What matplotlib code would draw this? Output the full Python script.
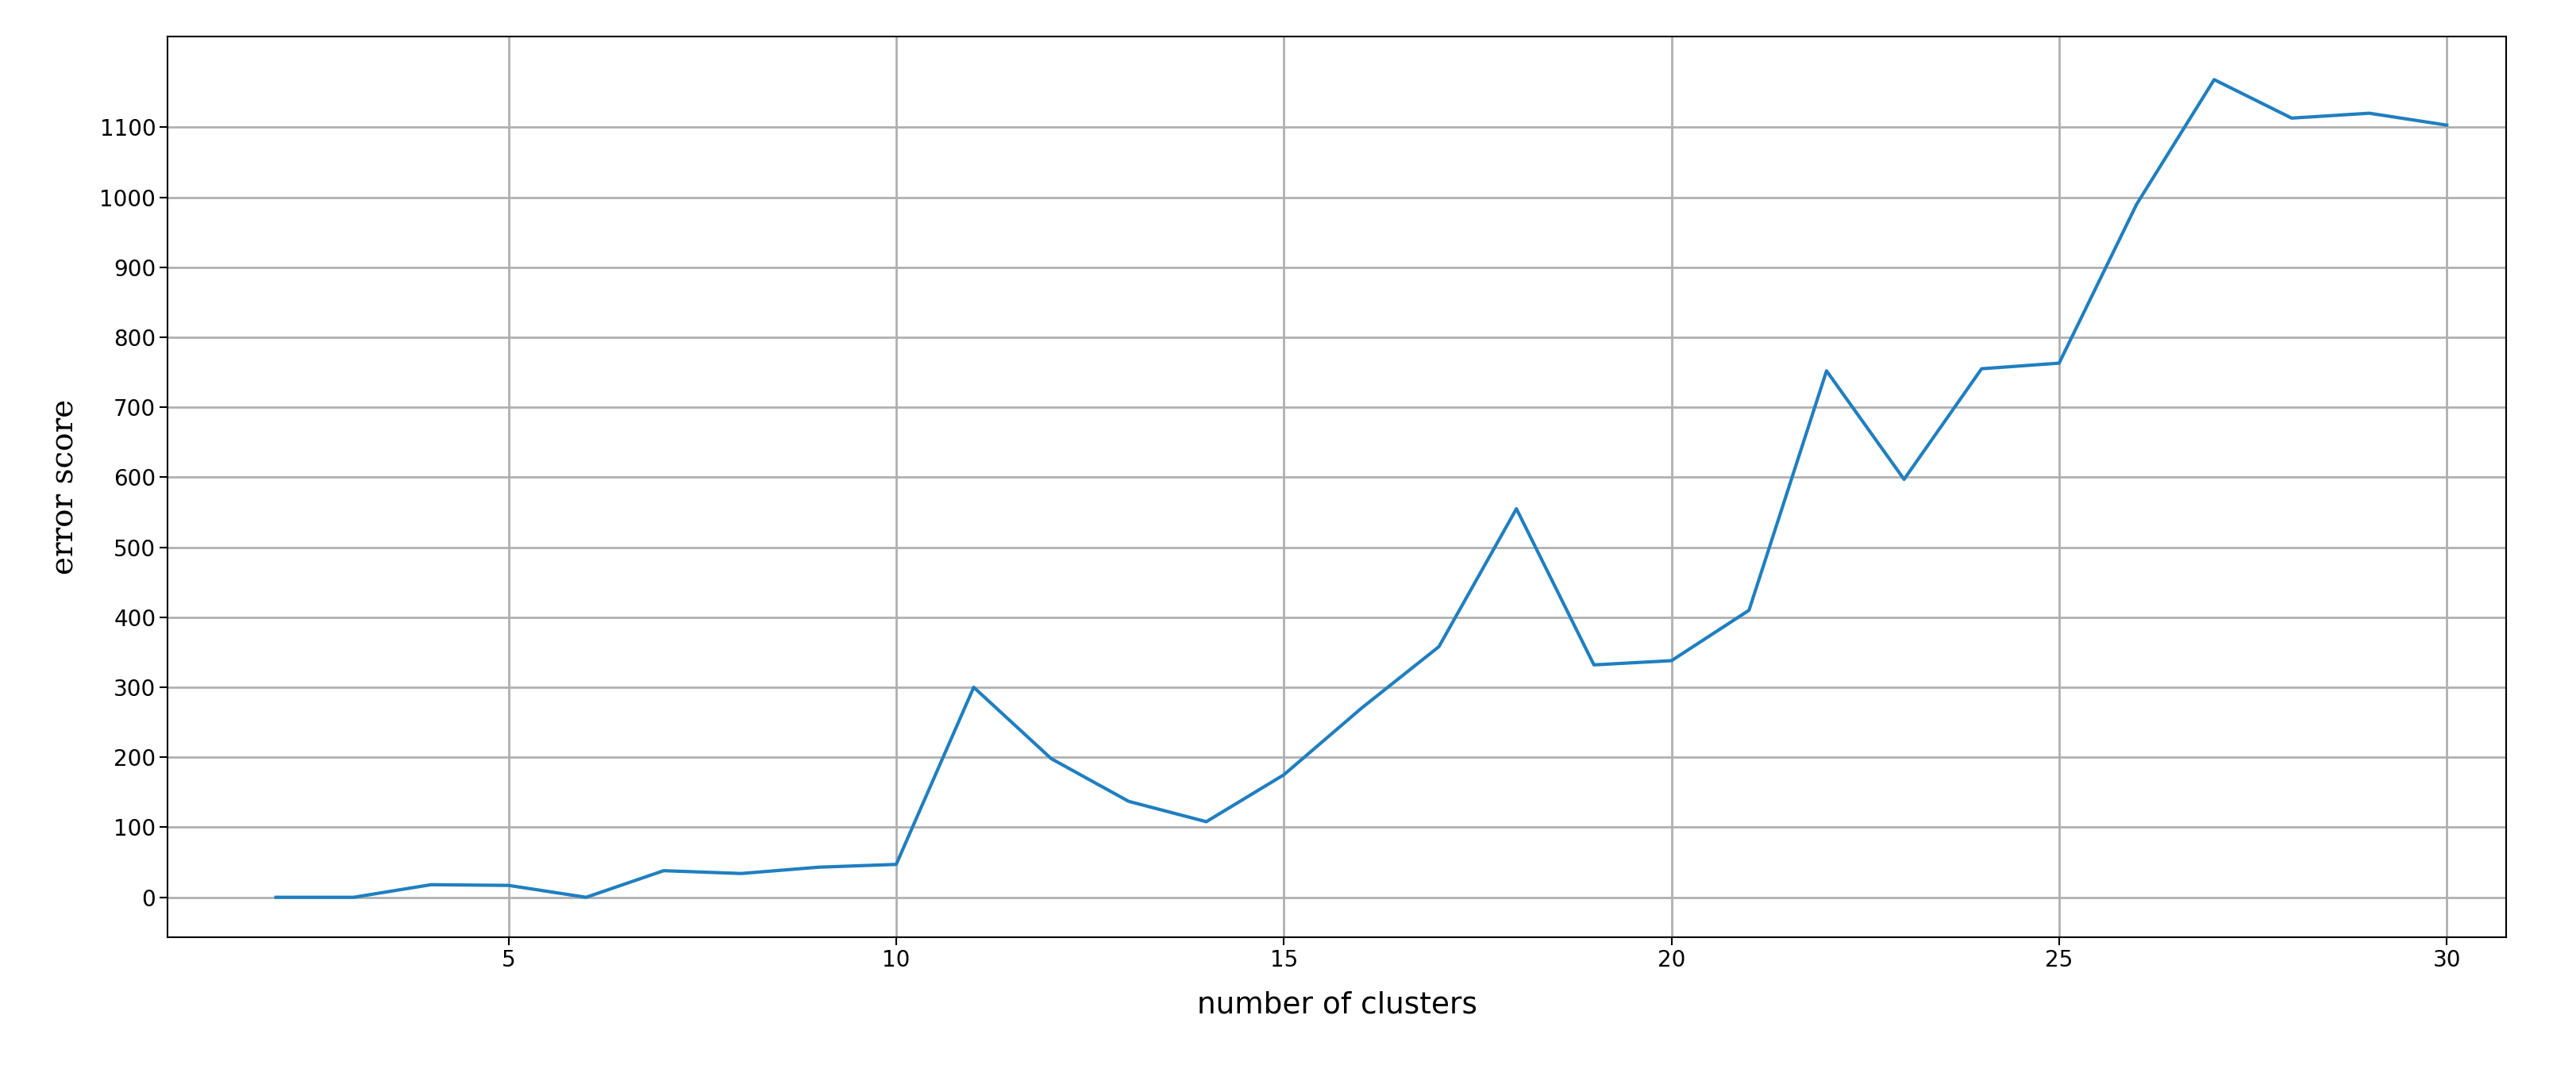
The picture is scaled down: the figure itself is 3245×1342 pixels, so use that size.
import matplotlib
matplotlib.use("Agg")
import matplotlib.pyplot as plt

clusters = list(range(2, 31))
scores = [0, 0, 18, 17, 0, 38, 34, 43, 47, 300, 198, 137, 108, 175, 270, 358, 555,
          332, 338, 410, 752, 597, 755, 763, 990, 1168, 1113, 1120, 1103]
yticks = list(range(0, 1101, 100))
xticks = [5, 10, 15, 20, 25, 30]

fig = plt.figure(figsize=(32.45, 13.42), dpi=100)
ax = fig.add_axes([0.065, 0.12, 0.908, 0.846])
ax.plot(clusters, scores, color="#1f7fc0", linewidth=3)
ax.set_xlim(0.6, 30.77)
ax.set_ylim(-57, 1230)
ax.set_xticks(xticks)
ax.set_yticks(yticks)
ax.grid(True, color="#b0b0b0", linewidth=2)
ax.tick_params(labelsize=20, width=1.5, length=7)
for s in ax.spines.values():
    s.set_linewidth(1.5)
ax.set_xlabel("number of clusters", fontsize=27, labelpad=18)
ax.set_ylabel("error score", fontsize=28, family="serif", labelpad=18)
fig.savefig("out.png", dpi=100)
